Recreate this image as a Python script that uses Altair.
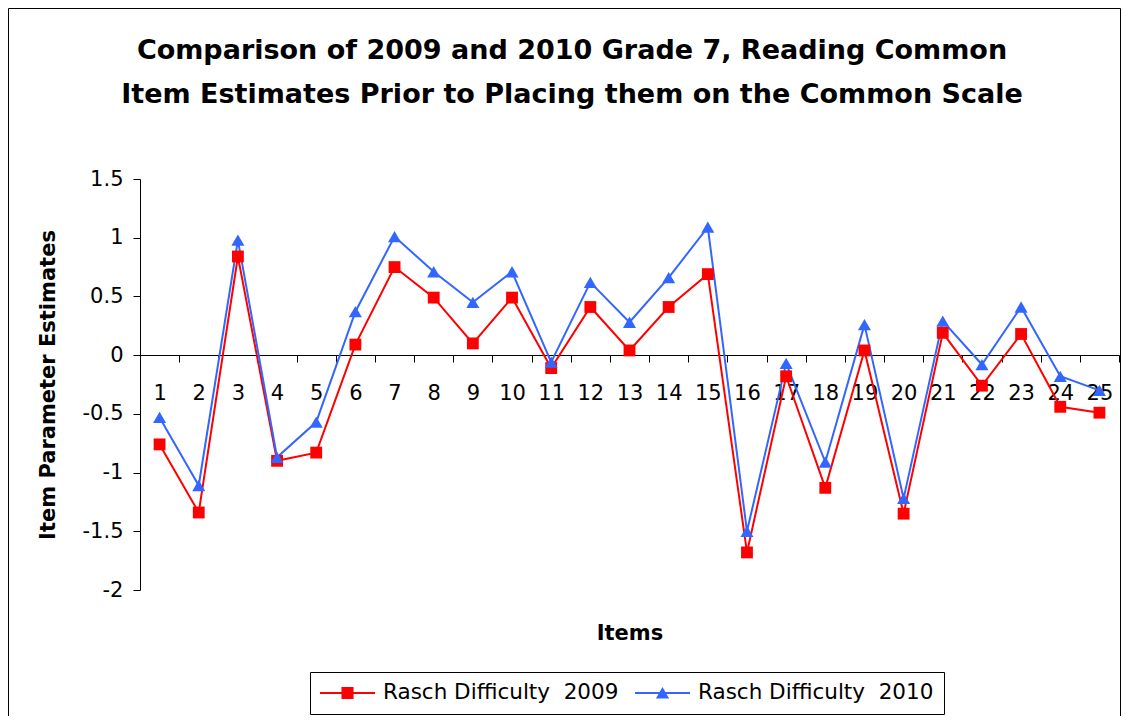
import altair as alt
import pandas as pd

items = [str(i) for i in range(1, 26)]
rasch_2009 = [-0.76, -1.34, 0.84, -0.90, -0.83, 0.09, 0.75, 0.49, 0.10, 0.49,
              -0.11, 0.41, 0.04, 0.41, 0.69, -1.68, -0.18, -1.13, 0.04, -1.35,
              0.19, -0.26, 0.18, -0.44, -0.49]
rasch_2010 = [-0.53, -1.11, 0.98, -0.87, -0.57, 0.37, 1.01, 0.71, 0.45, 0.71,
              -0.06, 0.62, 0.28, 0.66, 1.09, -1.50, -0.07, -0.91, 0.26, -1.22,
              0.29, -0.08, 0.41, -0.18, -0.30]
series_names = ["Rasch Difficulty \u00a02009", "Rasch Difficulty \u00a02010"]
series_colors = ["#FF0000", "#3366FF"]
y_ticks = [-2, -1.5, -1, -0.5, 0, 0.5, 1, 1.5]

rows = []
for it, v in zip(items, rasch_2009):
    rows.append({"item": it, "value": v, "series": series_names[0]})
for it, v in zip(items, rasch_2010):
    rows.append({"item": it, "value": v, "series": series_names[1]})
df = pd.DataFrame(rows)

FONT = "DejaVu Sans"
W, H = 979, 411

x_enc = alt.X(
    "item:O",
    sort=items,
    scale=alt.Scale(type="band", domain=items, paddingInner=0, paddingOuter=0),
    axis=alt.Axis(
        title="Items", orient="bottom", offset=-235, labelAngle=0,
        tickBand="extent", tickSize=7, tickColor="black", domainColor="black",
        labelFont=FONT, labelFontSize=21, labelColor="black", labelPadding=20,
        titleFont=FONT, titleFontSize=21, titleFontWeight="bold", titleColor="black",
        titleX=489.5, titleY=278, titleAlign="center", titleBaseline="middle",
        grid=False,
    ),
)
y_enc = alt.Y(
    "value:Q",
    scale=alt.Scale(domain=[-2, 1.5], nice=False, zero=False),
    axis=alt.Axis(
        title="Item Parameter Estimates", values=y_ticks, labelExpr="'' + datum.value",
        tickSize=7, tickColor="black", domainColor="black",
        labelFont=FONT, labelFontSize=21, labelColor="black", labelPadding=10,
        titleFont=FONT, titleFontSize=21, titleFontWeight="bold", titleColor="black",
        titleX=-92, titleY=205.5, titleAngle=270, titleAlign="center", titleBaseline="middle",
        grid=False,
    ),
)

base = alt.Chart(df)

line09 = base.transform_filter(alt.datum.series == series_names[0]).mark_line(
    color=series_colors[0], strokeWidth=2).encode(x=x_enc, y=y_enc)
line10 = base.transform_filter(alt.datum.series == series_names[1]).mark_line(
    color=series_colors[1], strokeWidth=2).encode(x=x_enc, y=y_enc)
pts09 = base.transform_filter(alt.datum.series == series_names[0]).mark_point(
    shape="square", filled=True, opacity=1, size=140, color=series_colors[0]).encode(x=x_enc, y=y_enc)
pts10 = base.transform_filter(alt.datum.series == series_names[1]).mark_point(
    shape="triangle-up", filled=True, opacity=1, size=170, color=series_colors[1]).encode(x=x_enc, y=y_enc)

legend_paths = [
    "M-1,-0.036H1V0.036H-1Z M-0.22,-0.22H0.22V0.22H-0.22Z",
    "M-1,-0.036H1V0.036H-1Z M-0.24,0.2L0,-0.22L0.24,0.2Z",
]
legend_layer = base.transform_filter("false").mark_point(filled=True, opacity=1).encode(
    x=x_enc, y=y_enc,
    color=alt.Color("series:N", scale=alt.Scale(domain=series_names, range=series_colors),
                    legend=alt.Legend(
                        title=None, orient="none", legendX=170, legendY=493,
                        direction="horizontal", strokeColor="black", fillColor="white",
                        padding=10, cornerRadius=0, symbolSize=3025, clipHeight=22,
                        symbolOffset=0, labelOffset=8, columnPadding=16,
                        symbolStrokeWidth=0, symbolOpacity=1,
                        labelFont=FONT, labelFontSize=21.5, labelColor="black",
                        labelLimit=400)),
    shape=alt.Shape("series:N", scale=alt.Scale(domain=series_names, range=legend_paths)),
)

frame = alt.Chart(pd.DataFrame({"a": [0]})).mark_rect(
    fillOpacity=0, stroke="black", strokeWidth=1).encode(
    x=alt.value(-131.5), x2=alt.value(980.5), y=alt.value(-170.5), y2=alt.value(600))

chart = alt.layer(frame, line09, line10, pts09, pts10, legend_layer).properties(
    width=W, height=H,
    title=alt.TitleParams(
        text=["Comparison of 2009 and 2010 Grade 7, Reading Common",
              "Item Estimates Prior to Placing them on the Common Scale"],
        font=FONT, fontSize=27, fontWeight="bold", color="black",
        anchor="middle", frame="group", dx=-57.5, offset=-101, lineHeight=44),
    autosize=alt.AutoSizeParams(type="none"),
    padding={"left": 132, "top": 171, "right": 2, "bottom": 126},
).configure(background="white").configure_view(
    stroke="transparent", strokeWidth=0).configure_axis(grid=False)

chart.save("out.html", embed_options={"renderer": "svg", "actions": False})
